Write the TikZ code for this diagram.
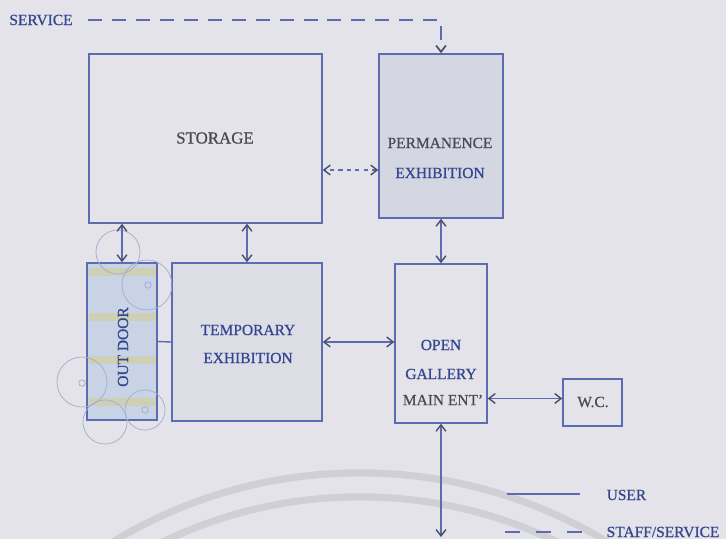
\documentclass[tikz,border=0pt]{standalone}
\usepackage{fontspec}
\setmainfont{Liberation Serif}[FakeBold=0.7]
\usepackage{xcolor}
\definecolor{paper}{HTML}{E3E3E9}
\definecolor{wire}{HTML}{5B6CB0}
\definecolor{tipc}{HTML}{474C6E}
\definecolor{navy}{HTML}{34468F}
\definecolor{ink}{HTML}{4A4A56}
\definecolor{permfill}{HTML}{D4D7E1}
\definecolor{tempfill}{HTML}{DCDDE5}
\definecolor{doorfill}{HTML}{C9D3E6}
\definecolor{doorband}{HTML}{CDD0B4}
\definecolor{treec}{HTML}{A3ABD2}
\definecolor{arcc}{HTML}{CFCFD4}
\usetikzlibrary{arrows.meta, positioning}

\begin{document}
\begin{tikzpicture}[x=0.025cm, y=-0.025cm,
    room/.style={rectangle, draw=wire, line width=1.1pt, inner sep=0pt},
    tag/.style={font=\fontsize{11}{13}\selectfont, text=navy, inner sep=1pt},
    darktag/.style={tag, text=ink},
    darr/.style={{Straight Barb[length=4.5pt, width=7pt, color=tipc]}-{Straight Barb[length=4.5pt, width=7pt, color=tipc]},
        line width=1pt, wire},
    svcarr/.style={-{Straight Barb[length=4.5pt, width=7pt, color=tipc]}, line width=1.2pt, wire,
        dash pattern=on 10pt off 7pt},
    tree/.style={treec, line width=0.5pt}
]

% paper and frame
\fill[paper] (0,0) rectangle (726,539);
\useasboundingbox (0,0) rectangle (726,539);

% grey arcs behind the plan
\begin{scope}
\clip (0,0) rectangle (726,539);
\draw[arcc, line width=5pt] (360,950) circle[radius=11.925cm];
\draw[arcc, line width=5pt] (360,950) circle[radius=11.325cm];
\end{scope}

% Rooms
\node[room, minimum width=5.825cm, minimum height=4.225cm] (storage) at (205.5, 138.5) {};
\node[room, fill=permfill, minimum width=3.1cm, minimum height=4.1cm] (perm) at (441, 136) {};
\node[room, fill=doorfill, minimum width=1.75cm, minimum height=3.925cm] (outdoor) at (122, 341.5) {};
\node[room, fill=tempfill, minimum width=3.75cm, minimum height=3.95cm] (temp) at (247, 342) {};
\node[room, minimum width=2.3cm, minimum height=3.975cm] (gallery) at (441, 343.5) {};
\node[room, minimum width=1.475cm, minimum height=1.175cm] (wc) at (592.5, 402.5) {};

% bands in the out door strip
\foreach \y in {272, 317, 360, 402}
    \fill[doorband] (88.5, \y-4) rectangle (155.5, \y+4);

% trees round the out door strip
\draw[tree] (118, 252) circle[radius=0.55cm];
\draw[tree] (147, 285) circle[radius=0.625cm];
\draw[tree] (82, 382) circle[radius=0.625cm];
\draw[tree] (105, 422) circle[radius=0.55cm];
\draw[tree] (145, 410) circle[radius=0.5cm];
\foreach \p in {(148,285), (82,383), (145,410)}
    \draw[tree] \p circle[radius=0.08cm];

% Labels
\node[tag] (service) at (41, 20) {SERVICE};
\node[darktag, font=\fontsize{12}{14}\selectfont] (storageTxt) at (215, 138) {STORAGE};
\node[darktag] (permTxtA) at (440, 143) {PERMANENCE};
\node[tag] (permTxtB) at (440, 173) {EXHIBITION};
\node[tag] (tempTxtA) at (248, 330) {TEMPORARY};
\node[tag] (tempTxtB) at (248, 358) {EXHIBITION};
\node[tag] (galTxtA) at (441, 345) {OPEN};
\node[tag] (galTxtB) at (441, 374) {GALLERY};
\node[darktag] (galTxtC) at (443, 400) {MAIN ENT'};
\node[darktag] (wcTxt) at (593, 402) {W.C.};
\node[tag, rotate=90] (doorTxt) at (123, 347) {OUT DOOR};

% Service route
\draw[svcarr, shorten <=10pt] (service.east) -| (perm.north);

% Links between rooms
\draw[darr] (outdoor.north) -- (outdoor.north |- storage.south);
\draw[darr] (temp.north) -- (temp.north |- storage.south);
\draw[darr, dash pattern=on 3pt off 3pt] ([yshift=-0.85cm]perm.west) -- ([yshift=-0.85cm]perm.west -| storage.east);
\draw[darr] (perm.south) -- (gallery.north);
\draw[darr] (temp.east) -- (temp.east -| gallery.west);
\draw[darr] ([yshift=0.1cm]gallery.east |- wc.west) -- ([yshift=0.1cm]wc.west);
\draw[line width=1pt, wire] (outdoor.east) -- (temp.west);

% Main entrance
\coordinate (exit) at (441, 537);
\draw[darr] (gallery.south) -- (exit);

% Legend
\coordinate (userA) at (507, 494);
\coordinate (userB) at (580, 494);
\coordinate (staffA) at (505, 532);
\coordinate (staffB) at (582, 532);
\draw[line width=1.1pt, wire] (userA) -- (userB);
\draw[line width=1.1pt, wire, dash pattern=on 10.7pt off 11.3pt] (staffA) -- (staffB);
\node[tag, anchor=west] (userTxt) at (605, 495) {USER};
\node[tag, anchor=west] (staffTxt) at (605, 532) {STAFF/SERVICE};

\end{tikzpicture}
\end{document}
